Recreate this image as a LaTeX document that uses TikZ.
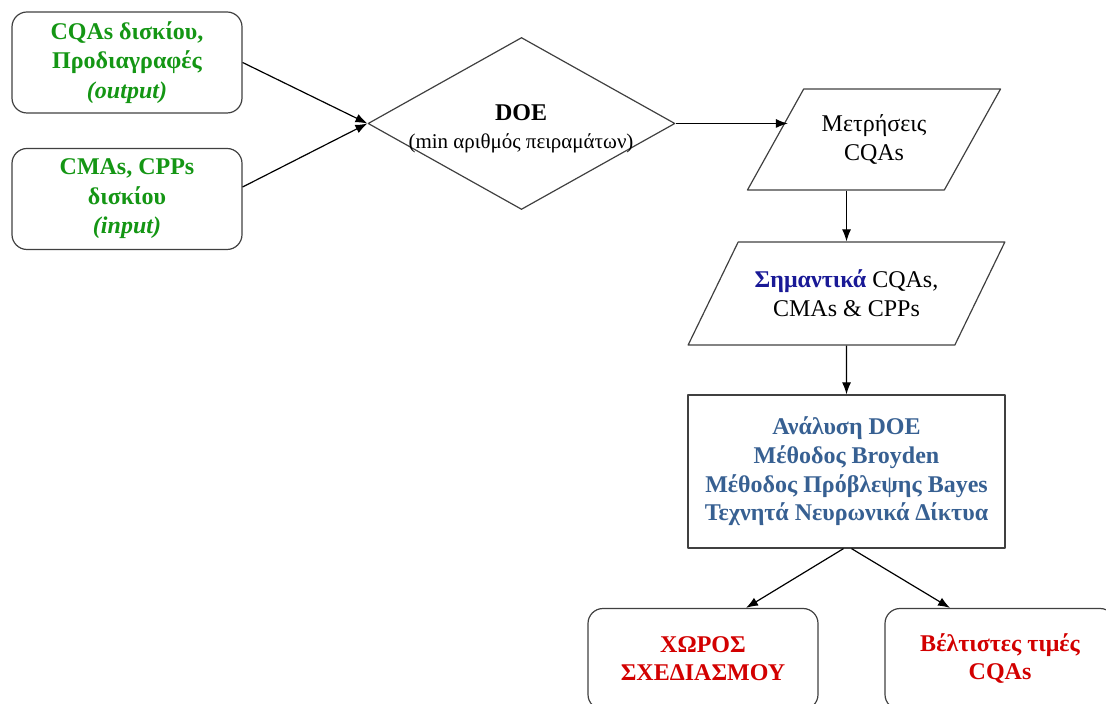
\documentclass[tikz,border=0pt]{standalone}
\usepackage{fontspec}
\setmainfont{Liberation Serif}
\usetikzlibrary{shapes.geometric,arrows.meta}
\definecolor{grn}{RGB}{20,150,20}
\definecolor{sigblue}{RGB}{25,25,150}
\definecolor{steel}{RGB}{55,96,146}
\definecolor{dred}{RGB}{210,0,0}
\begin{document}
\begin{tikzpicture}[x=0.5pt,y=-0.5pt,>={Latex[length=6pt,width=4.5pt]},
		font=\fontsize{12}{14.5}\selectfont, line join=round, line width=0.6pt,
		rbox/.style={draw=black!75, rounded corners=7.5pt, minimum width=115pt, minimum height=50.5pt, align=center, inner sep=0pt},
		decision/.style={draw=black!75, diamond, minimum width=153.5pt, minimum height=86pt, inner sep=0pt},
		io/.style={draw=black!75, trapezium, trapezium stretches=true, align=center, inner sep=0pt},
		proc/.style={draw=black!75, minimum width=158.5pt, minimum height=76.5pt, align=center, inner sep=0pt}]
		\useasboundingbox (0,0) rectangle (1106,704);
		\clip (0,0) rectangle (1106,704);
		% eisodoi
		\node[rbox, text=grn, font=\fontsize{12}{14.75}\selectfont\bfseries] (outp) at (127,62.5) {CQAs δισκίου,\\Προδιαγραφές\\\textit{(output)}};
		\node[rbox, text=grn, font=\fontsize{12}{14.75}\selectfont\bfseries] (inp) at (127,199) {CMAs, CPPs\\δισκίου\\\textit{(input)}};
		% DOE
		\node[decision] (doe) at (521.5,123.5) {};
		\node[align=center, font=\fontsize{10.5}{14}\selectfont] (doetxt) at (521,129) {\fontsize{12}{14}\selectfont\textbf{DOE}\\(min αριθμός πειραμάτων)};
		\node[io, trapezium left angle=50, trapezium right angle=130, minimum width=127pt, minimum height=50.5pt] (meas) at (874,139.5) {Μετρήσεις\\CQAs};
		\node[io, trapezium left angle=48, trapezium right angle=132, minimum width=158.5pt, minimum height=51.5pt] (sig) at (846.5,293.5) {\textcolor{sigblue}{\textbf{Σημαντικά}} CQAs,\\CMAs \& CPPs};
		\node[proc, text=steel, font=\fontsize{12}{14.3}\selectfont\bfseries] (anal) at (846.5,471.5) {Ανάλυση DOE\\Μέθοδος Broyden\\Μέθοδος Πρόβλεψης Bayes\\Τεχνητά Νευρωνικά Δίκτυα};
		% apotelesmata
		\node[rbox, text=dred, font=\fontsize{12}{14}\selectfont\bfseries] (space) at (703,659) {ΧΩΡΟΣ\\ΣΧΕΔΙΑΣΜΟΥ};
		\node[rbox, text=dred, font=\fontsize{12}{14}\selectfont\bfseries] (best) at (1000,659) {Βέλτιστες τιμές\\CQAs};
		\draw[->] (outp.east) -- (doe.west);
		\draw[->] ([yshift=6pt]inp.east) -- (doe.west);
		\draw[->] (doe.east) -- ([xshift=6.5pt]doe.east -| meas.west);
		\draw[->] (sig.north |- meas.south) -- (sig.north);
		\draw[->] (sig.south) -- (anal.north);
		\draw[->] ([xshift=-1.5pt]anal.south) -- ([xshift=21.5pt]space.north);
		\draw[->] ([xshift=2.5pt]anal.south) -- ([xshift=-25pt]best.north);
\end{tikzpicture}
\end{document}
